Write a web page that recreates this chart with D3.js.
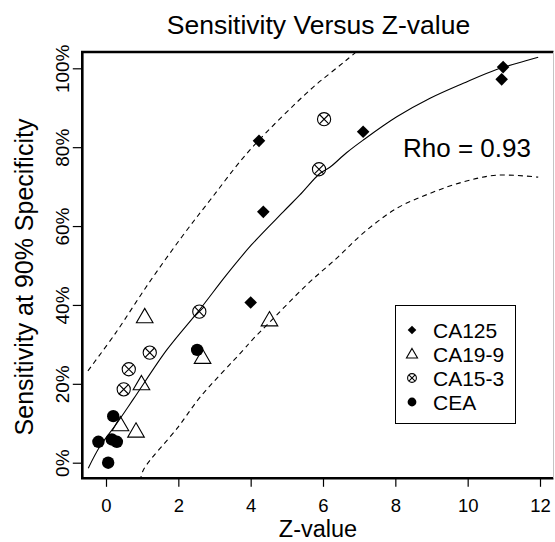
<!DOCTYPE html>
<html><head><meta charset="utf-8">
<script src="https://cdn.jsdelivr.net/npm/d3@7"></script>
<style>
body{margin:0;background:#fff}
svg{display:block}
text{font-family:"Liberation Sans",Arial,Helvetica,sans-serif;fill:#000}
</style>
</head><body>
<svg id="chart" width="555" height="542"></svg>
<script>
// ---- data (Z-value, sensitivity %) ----
const ca125 = [[4.23,81.6],[4.35,63.6],[4.00,40.6],[7.11,83.9],[10.98,100.3],[10.94,97.2]];
const ca199 = [[1.07,36.7],[4.52,35.9],[2.67,26.4],[0.98,19.7],[0.40,9.3],[0.83,7.7]];
const ca153 = [[6.03,87.1],[5.89,74.4],[2.58,38.3],[1.21,27.9],[0.63,23.7],[0.49,18.6]];
const cea   = [[2.52,28.6],[0.20,11.8],[-0.21,5.3],[0.16,5.9],[0.30,5.3],[0.06,0.0]];
const fitLine = [[-0.49,-1.4],[-0.17,4.1],[0.30,10.0],[0.77,16.3],[1.68,28.6],[2.58,38.7],[3.32,47.5],
  [4.02,55.2],[4.90,63.6],[5.36,67.9],[5.92,73.4],[6.19,74.9],[6.65,78.6],[7.11,81.8],[8.04,87.7],
  [8.96,92.4],[9.88,96.2],[10.80,99.7],[11.68,102.1],[11.95,102.8]];
const upperBand = [[-0.50,23.3],[0.26,32.8],[1.18,45.5],[2.10,57.3],[2.88,66.6],[3.98,79.3],
  [5.64,94.5],[6.19,98.7],[6.65,102.1],[7.00,104.8]];
const lowerBand = [[0.95,-4.6],[1.03,-1.9],[2.00,9.1],[2.61,16.7],[3.80,28.6],[4.04,31.1],[4.49,35.3],
  [5.55,45.1],[6.42,52.2],[7.11,58.2],[8.04,64.5],[8.96,68.3],[9.88,71.2],[10.80,72.9],[11.95,72.4]];
const xTicks = [0,2,4,6,8,10,12];
const yTicks = [0,20,40,60,80,100];
const legendLabels = ["CA125","CA19-9","CA15-3","CEA"];
const titleText = "Sensitivity Versus Z-value";
const xTitle = "Z-value";
const yTitle = "Sensitivity at 90% Specificity";
const rhoText = "Rho = 0.93";

// ---- layout ----
const plot = {left:82.3, right:553.5, top:52, bottom:478.3};
const x = d3.scaleLinear().domain([0,12]).range([106,540]);
const y = d3.scaleLinear().domain([0,100]).range([462.7,68.3]);

const svg = d3.select("#chart");
svg.append("rect").attr("width",555).attr("height",542).attr("fill","#fff");

svg.append("defs").append("clipPath").attr("id","clip")
  .append("rect").attr("x",plot.left).attr("y",plot.top)
  .attr("width",plot.right-plot.left).attr("height",plot.bottom-plot.top);

// title
svg.append("text").attr("x",318.5).attr("y",33.5).attr("text-anchor","middle")
  .attr("font-size",26.5).text(titleText);

// axes
const xAxis = d3.axisBottom(x).tickValues(xTicks).tickSize(8.5).tickPadding(12).tickFormat(d3.format("d"));
const gx = svg.append("g").attr("transform",`translate(0,${plot.bottom})`).call(xAxis);
gx.select(".domain").remove();
gx.selectAll("line").attr("stroke","#000").attr("stroke-width",1.2);
gx.selectAll("text").attr("font-size",18.5).attr("font-family",null).attr("fill","#000");

const yAxis = d3.axisLeft(y).tickValues(yTicks).tickSize(9.5).tickFormat(d => d + "%");
const gy = svg.append("g").attr("transform",`translate(${plot.left},0)`).call(yAxis);
gy.select(".domain").remove();
gy.selectAll("line").attr("stroke","#000").attr("stroke-width",1.2);
gy.selectAll("text").remove();
gy.selectAll(".tick").append("text")
  .attr("transform","translate(-13,0) rotate(-90)")
  .attr("text-anchor","middle").attr("font-size",19).attr("font-family",null).attr("fill","#000")
  .text(d => d + "%");

// axis titles
svg.append("text").attr("x",318).attr("y",537).attr("text-anchor","middle")
  .attr("font-size",23.5).text(xTitle);
svg.append("text").attr("transform",`translate(33,277) rotate(-90)`)
  .attr("text-anchor","middle").attr("font-size",25).text(yTitle);

// curves
const line = d3.line().x(d => x(d[0])).y(d => y(d[1])).curve(d3.curveCatmullRom.alpha(0.5));
const gc = svg.append("g").attr("clip-path","url(#clip)");
gc.append("path").datum(fitLine).attr("d",line).attr("fill","none").attr("stroke","#000").attr("stroke-width",1.1);
gc.append("path").datum(upperBand).attr("d",line).attr("fill","none").attr("stroke","#000").attr("stroke-width",1.1).attr("stroke-dasharray","5,4");
gc.append("path").datum(lowerBand).attr("d",line).attr("fill","none").attr("stroke","#000").attr("stroke-width",1.1).attr("stroke-dasharray","5,4");

// marker painters
function diamond(g, cx, cy, h){
  g.append("path").attr("d",`M${cx},${cy-h}L${cx+h},${cy}L${cx},${cy+h}L${cx-h},${cy}Z`).attr("fill","#000");
}
function triangle(g, cx, cy, r){
  const xc = r*Math.sqrt(3)/2, yc = r/2;
  g.append("path").attr("d",`M${cx},${cy-r}L${cx+xc},${cy+yc}L${cx-xc},${cy+yc}Z`)
    .attr("fill","none").attr("stroke","#000").attr("stroke-width",1.1);
}
function circX(g, cx, cy, r){
  g.append("circle").attr("cx",cx).attr("cy",cy).attr("r",r).attr("fill","none").attr("stroke","#000").attr("stroke-width",1.1);
  const k = r*0.7071;
  g.append("path").attr("d",`M${cx-k},${cy-k}L${cx+k},${cy+k}M${cx-k},${cy+k}L${cx+k},${cy-k}`)
    .attr("stroke","#000").attr("stroke-width",1.1);
}
function dot(g, cx, cy, r){
  g.append("circle").attr("cx",cx).attr("cy",cy).attr("r",r).attr("fill","#000");
}

const gp = svg.append("g");
ca125.forEach(d => diamond(gp, x(d[0]), y(d[1]), 6.3));
ca199.forEach(d => triangle(gp, x(d[0]), y(d[1]), 9.6));
ca153.forEach(d => circX(gp, x(d[0]), y(d[1]), 6.6));
cea.forEach(d => dot(gp, x(d[0]), y(d[1]), 6.2));

// Rho text
svg.append("text").attr("x",403).attr("y",156.5).attr("font-size",26).text(rhoText);

// legend
const lg = svg.append("g");
lg.append("rect").attr("x",395.5).attr("y",305.5).attr("width",120).attr("height",118)
  .attr("fill","#fff").attr("stroke","#000").attr("stroke-width",1);
const painters = [
  (cx,cy)=>diamond(lg,cx,cy,4.3),
  (cx,cy)=>triangle(lg,cx,cy+0.8,6.4),
  (cx,cy)=>circX(lg,cx,cy,4.4),
  (cx,cy)=>dot(lg,cx,cy,4.4)
];
legendLabels.forEach((lab,i) => {
  const cy = 330 + i*24;
  painters[i](412, cy);
  lg.append("text").attr("x",433).attr("y",cy).attr("dy","0.36em").attr("font-size",21).text(lab);
});

// plot box
svg.append("path")
  .attr("d",`M${plot.right},${plot.top}H${plot.left}V${plot.bottom}H${plot.right}`)
  .attr("fill","none").attr("stroke","#000").attr("stroke-width",2.6);
svg.append("line").attr("x1",plot.right).attr("x2",plot.right).attr("y1",plot.top).attr("y2",plot.bottom)
  .attr("stroke","#c4c4c4").attr("stroke-width",1);
</script>
</body></html>
